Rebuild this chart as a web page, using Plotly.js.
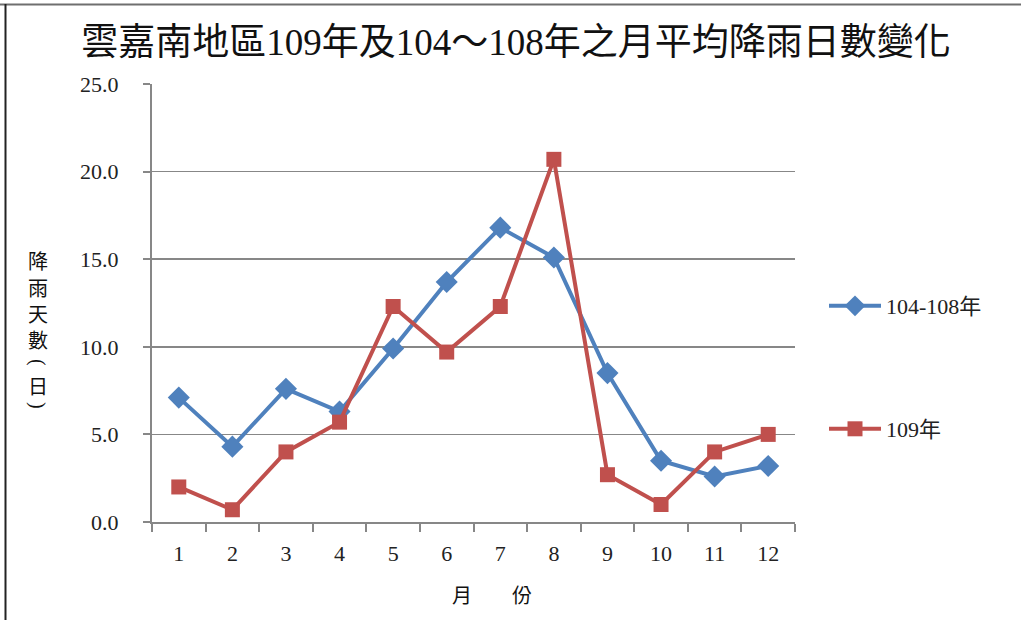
<!DOCTYPE html>
<html>
<head>
<meta charset="utf-8">
<script src="https://cdn.plot.ly/plotly-3.0.1.min.js"></script>
<style>
html,body{margin:0;padding:0;background:#fff;}
#chart{width:1021px;height:620px;}
</style>
</head>
<body>
<div id="chart"></div>
<script>
const months = ["1","2","3","4","5","6","7","8","9","10","11","12"];
const avg104to108 = [7.1, 4.3, 7.6, 6.3, 9.9, 13.7, 16.8, 15.1, 8.5, 3.5, 2.6, 3.2];
const year109 = [2.0, 0.7, 4.0, 5.7, 12.3, 9.7, 12.3, 20.7, 2.7, 1.0, 4.0, 5.0];
const seriesNames = ["104-108年", "109年"];
const yTicks = [0, 5, 10, 15, 20, 25];

const FONT = '"Liberation Serif", "Times New Roman", "Noto Sans CJK TC", serif';
const GRAY = '#878787';

// plot area in pixels: x 152..795, y 84..522
const L = 152, R = 795, T = 84, B = 522;
const px = v => (v - L) / (R - L);
const py = v => (B - v) / (B - T);

const traces = [
  {
    x: months, y: avg104to108, name: seriesNames[0], type: 'scatter', mode: 'lines+markers',
    line: {color: '#4F81BD', width: 4},
    marker: {symbol: 'diamond', size: 17, color: '#4F81BD'},
    legend: 'legend'
  },
  {
    x: months, y: year109, name: seriesNames[1], type: 'scatter', mode: 'lines+markers',
    line: {color: '#C0504D', width: 4},
    marker: {symbol: 'square', size: 15, color: '#C0504D'},
    legend: 'legend2'
  }
];

const legendCommon = {
  xanchor: 'left', yanchor: 'middle', bgcolor: 'rgba(0,0,0,0)', borderwidth: 0,
  font: {family: FONT, size: 22, color: '#222'}, itemwidth: 52, tracegroupgap: 0
};

const labelFont = {family: FONT, size: 20, color: '#111'};
const yLabelChars = [
  {t: '降', y: 262, a: 0}, {t: '雨', y: 289, a: 0}, {t: '天', y: 315, a: 0}, {t: '數', y: 341, a: 0},
  {t: '(', y: 362, a: 90}, {t: '日', y: 387, a: 0}, {t: ')', y: 405, a: 90}
];

const annotations = [
  {
    text: '月　　份', xref: 'paper', yref: 'paper', x: px(492), y: py(596),
    xanchor: 'center', yanchor: 'middle', showarrow: false, font: labelFont
  }
].concat(yLabelChars.map(c => ({
  text: c.t, xref: 'paper', yref: 'paper', x: px(38), y: py(c.y),
  xanchor: 'center', yanchor: 'middle', showarrow: false, textangle: c.a, font: labelFont
})));

const layout = {
  width: 1021, height: 620,
  margin: {l: L, r: 1021 - R, t: T, b: 620 - B},
  paper_bgcolor: '#fff', plot_bgcolor: '#fff',
  title: {
    text: '雲嘉南地區109年及104～108年之月平均降雨日數變化',
    font: {family: FONT, size: 37, color: '#111'},
    xref: 'container', x: 516 / 1021, xanchor: 'center',
    yref: 'container', y: 1 - 42 / 620, yanchor: 'middle'
  },
  showlegend: true,
  legend: Object.assign({}, legendCommon, {x: px(824), y: py(306)}),
  legend2: Object.assign({}, legendCommon, {x: px(824), y: py(429)}),
  xaxis: {
    type: 'category', categoryorder: 'array', categoryarray: months,
    range: [-0.5, 11.5],
    showgrid: false, zeroline: false,
    showline: true, linecolor: GRAY, linewidth: 2,
    ticks: 'outside', tickson: 'boundaries', ticklen: 8, tickwidth: 2, tickcolor: GRAY,
    tickfont: {family: FONT, size: 22, color: '#222'},
    ticklabelstandoff: 11,
    fixedrange: true
  },
  yaxis: {
    range: [0, 25], tickvals: yTicks, tickformat: '.1f',
    showgrid: true, gridcolor: GRAY, gridwidth: 1.5,
    zeroline: false,
    showline: true, linecolor: GRAY, linewidth: 2,
    ticks: 'outside', ticklen: 7, tickwidth: 2, tickcolor: GRAY,
    tickfont: {family: FONT, size: 22, color: '#222'},
    ticklabelstandoff: 20,
    fixedrange: true
  },
  annotations: annotations,
  shapes: [
    {type: 'line', xref: 'paper', yref: 'paper', x0: px(0), x1: px(1021), y0: py(4.5), y1: py(4.5),
     line: {color: '#6f6f6f', width: 2}},
    {type: 'line', xref: 'paper', yref: 'paper', x0: px(5.5), x1: px(5.5), y0: py(4), y1: py(620),
     line: {color: '#222', width: 2}}
  ]
};

Plotly.newPlot('chart', traces, layout, {displayModeBar: false, staticPlot: true});
</script>
</body>
</html>
